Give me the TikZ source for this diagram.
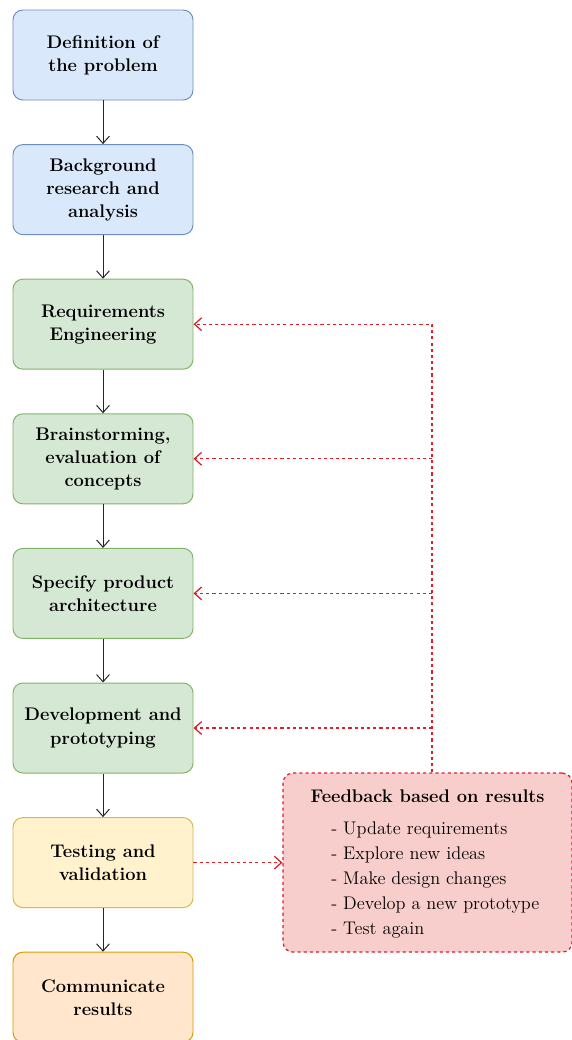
\documentclass[tikz,border=0pt]{standalone}
\usepackage{tikz}
\usetikzlibrary{arrows.meta, positioning, calc}
\usepackage{xcolor}

\definecolor{bluefill}{HTML}{DAE8FC}
\definecolor{bluedraw}{HTML}{6C8EBF}
\definecolor{greenfill}{HTML}{D5E8D4}
\definecolor{greendraw}{HTML}{82B366}
\definecolor{yellowfill}{HTML}{FFF2CC}
\definecolor{yellowdraw}{HTML}{D6B656}
\definecolor{orangefill}{HTML}{FFE6CC}
\definecolor{orangedraw}{HTML}{D79B00}
\definecolor{redfill}{HTML}{F8CECC}
\definecolor{reddash}{HTML}{DD1F2A}

\begin{document}
\begin{tikzpicture}[
    every node/.style={font=\fontsize{13}{16.4}\selectfont},
    etapa/.style={
        rounded corners=7pt,
        line width=0.7pt,
        minimum width=4.5cm,
        minimum height=2.25cm,
        align=center,
        font=\fontsize{13}{16.4}\selectfont\bfseries
    },
    azul/.style={etapa, draw=bluedraw, fill=bluefill},
    verde/.style={etapa, draw=greendraw, fill=greenfill},
    amarelo/.style={etapa, draw=yellowdraw, fill=yellowfill},
    laranja/.style={etapa, draw=orangedraw, fill=orangefill},
    seta/.style={
        -{Straight Barb[length=1.8mm, width=3.2mm]},
        line width=0.7pt,
        black!85
    },
    retorno/.style={
        -{Straight Barb[length=1.8mm, width=3.2mm]},
        draw=reddash,
        line width=0.9pt,
        dash pattern=on 2.2pt off 2.2pt
    }
]

\useasboundingbox (0,0) rectangle (14.3,-26);

% ============================================================
% ETAPAS
% ============================================================

\node[azul] (definicao) at (2.575,-1.375)
{Definition of\\the problem};

\node[azul] (pesquisa) at (2.575,-4.74)
{Background\\research and\\analysis};

\node[verde] (requisitos) at (2.575,-8.105)
{Requirements\\Engineering};

\node[verde] (ideias) at (2.575,-11.47)
{Brainstorming,\\evaluation of\\concepts};

\node[verde] (arquitetura) at (2.575,-14.835)
{Specify product\\architecture};

\node[verde] (prototipo) at (2.575,-18.2)
{Development and\\prototyping};

\node[amarelo] (teste) at (2.575,-21.565)
{Testing and\\validation};

\node[laranja] (comunicar) at (2.575,-24.93)
{Communicate\\results};

% ============================================================
% FEEDBACK
% ============================================================

\node[
    draw=reddash,
    fill=redfill,
    line width=0.9pt,
    dash pattern=on 2.2pt off 2.2pt,
    rounded corners=7pt,
    minimum width=7.225cm,
    minimum height=4.475cm,
    align=center,
    font=\fontsize{13}{17.8}\selectfont
] (feedback) at (10.69,-21.565)
{
\rule{0pt}{13.3pt}\textbf{Feedback based on results}\\[5pt]
\hspace*{11pt}\begin{tabular}[t]{@{}l@{}}
- Update requirements\\
- Explore new ideas\\
- Make design changes\\
- Develop a new prototype\\
- Test again
\end{tabular}
};

\coordinate (barra) at (10.8,0);

% ============================================================
% SETAS
% ============================================================

\draw[seta] (definicao) -- (pesquisa);
\draw[seta] (pesquisa) -- (requisitos);
\draw[seta] (requisitos) -- (ideias);
\draw[seta] (ideias) -- (arquitetura);
\draw[seta] (arquitetura) -- (prototipo);
\draw[seta] (prototipo) -- (teste);
\draw[seta] (teste) -- (comunicar);

% Retorno
\draw[retorno] (teste) -- (feedback);
\draw[retorno] (barra |- feedback.north) |- (requisitos.east);
\draw[retorno] (barra |- ideias.east) -- (ideias.east);
\draw[retorno] (barra |- arquitetura.east) -- (arquitetura.east);
\draw[retorno] (barra |- prototipo.east) -- (prototipo.east);

\end{tikzpicture}
\end{document}
